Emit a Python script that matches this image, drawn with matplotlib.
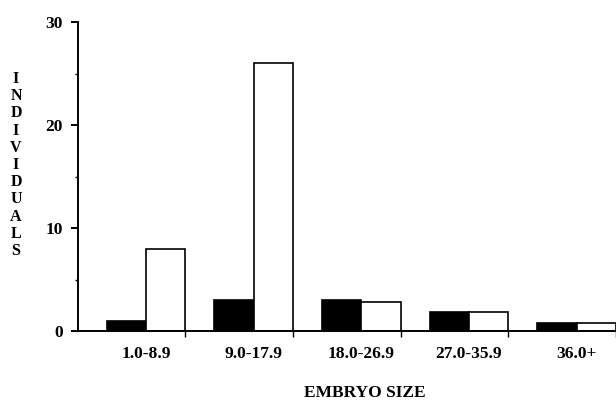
import matplotlib
matplotlib.use("Agg")
import matplotlib.pyplot as plt
import numpy as np

# --- data ---
size_classes = ["1.0-8.9", "9.0-17.9", "18.0-26.9", "27.0-35.9", "36.0+"]
dark_counts  = [1, 3, 3, 1.8, 0.8]
light_counts = [8, 26, 2.8, 1.8, 0.8]
y_ticks = [0, 10, 20, 30]

plt.rcParams["font.family"] = ["Liberation Serif", "DejaVu Serif"]
plt.rcParams["font.weight"] = "bold"

fig = plt.figure(figsize=(6.16, 4.0), dpi=100)
ax = fig.add_axes([0.127, 0.1725, 0.873, 0.7725])

x = np.arange(len(size_classes))
w = 0.365
ax.bar(x - w / 2, dark_counts, w, color="black", edgecolor="black", lw=1.2)
ax.bar(x + w / 2, light_counts, w, color="white", edgecolor="black", lw=1.2)

ax.set_xlim(-0.63, 4.35)
ax.set_ylim(0, 30)

for s in ["top", "right"]:
    ax.spines[s].set_visible(False)
ax.spines["left"].set_linewidth(1.4)
ax.spines["bottom"].set_linewidth(1.4)

# category labels centred under each pair, ticks at the pair edges
ax.set_xticks(x + w)
ax.set_xticklabels([])
ax.tick_params(axis="x", length=4, width=1, direction="out")
for xi, lab in zip(x, size_classes):
    ax.text(xi, -2.2, lab, ha="center", va="center", fontsize=12.5,
            fontweight="bold", clip_on=False)

ax.set_yticks(y_ticks)
ax.set_yticks([5, 15, 25], minor=True)
ax.tick_params(axis="y", which="major", length=5, width=1.4, pad=6, labelsize=12.5)
ax.tick_params(axis="y", which="minor", length=2, width=1)
for t in ax.get_yticklabels():
    t.set_fontweight("bold")

fig.text(0.593, 0.018, "EMBRYO SIZE", ha="center", va="center",
         fontsize=12.5, fontweight="bold")
fig.text(0.026, 0.5875, "\n".join("INDIVIDUALS"), ha="center", va="center",
         fontsize=11.5, fontweight="bold", linespacing=1.1)

fig.savefig("out.png", dpi=100)
